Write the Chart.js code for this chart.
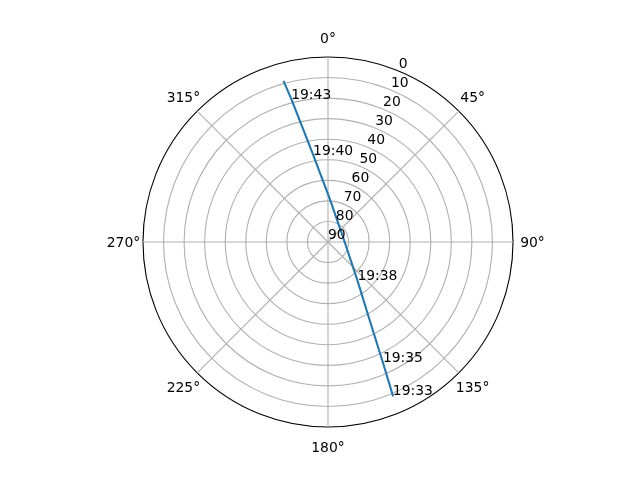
<!DOCTYPE html>
<html>
<head>
<meta charset="utf-8">
<script src="https://cdn.jsdelivr.net/npm/chart.js@4"></script>
<style>
  html, body { margin: 0; padding: 0; background: #fff; }
  #wrap { width: 640px; height: 480px; }
</style>
</head>
<body>
<div id="wrap"><canvas id="sky" width="640" height="480"></canvas></div>
<script>
// compass directions around the rim, elevation rings (0 = horizon at rim, 90 = zenith)
const directionLabels = ['0°', '45°', '90°', '135°', '180°', '225°', '270°', '315°'];
const elevationTicks = [0, 10, 20, 30, 40, 50, 60, 70, 80, 90];

// satellite pass (azimuth deg, elevation deg)
const trackAzimuth = [157.1, 155.5, 151.9, 142.5, 90.0, 2.8, 350.3, 345.6, 344.6];
const trackElevation = [9.0, 25.6, 47.1, 66.5, 81.9, 69.4, 46.9, 18.0, 9.2];
const trackTimes = ['19:33', '19:35', '', '19:38', '', '', '19:40', '19:43', ''];

const FONT = '13.9px "DejaVu Sans"';

function polarPos(scale, az, el) {
    const d = scale.getDistanceFromCenterForValue(el);
    const a = az * Math.PI / 180 - Math.PI / 2;
    return { x: scale.xCenter + Math.cos(a) * d, y: scale.yCenter + Math.sin(a) * d };
}

const skyPlot = {
    id: 'skyPlot',
    afterDraw(chart) {
        const r = chart.scales.r;
        const ctx = chart.ctx;
        ctx.save();

        // pass track
        ctx.beginPath();
        trackAzimuth.forEach((az, i) => {
            const p = polarPos(r, az, trackElevation[i]);
            if (i === 0) ctx.moveTo(p.x, p.y);
            else ctx.lineTo(p.x, p.y);
        });
        ctx.strokeStyle = '#1f77b4';
        ctx.lineWidth = 2.08;
        ctx.lineJoin = 'round';
        ctx.lineCap = 'square';
        ctx.stroke();

        ctx.font = FONT;
        ctx.fillStyle = '#000';

        // time stamps at their points
        ctx.textAlign = 'left';
        ctx.textBaseline = 'alphabetic';
        trackTimes.forEach((t, i) => {
            if (!t) return;
            const p = polarPos(r, trackAzimuth[i], trackElevation[i]);
            ctx.fillText(t, p.x, p.y);
        });

        // elevation tick labels along 22.5°
        elevationTicks.forEach(v => {
            const p = polarPos(r, 22.5, v);
            ctx.fillText(String(v), p.x, p.y - 3);
        });

        // compass labels outside the rim
        ctx.textAlign = 'center';
        directionLabels.forEach((lab, i) => {
            const a = i * Math.PI / 4 - Math.PI / 2;
            const d = r.drawingArea + 19.5;
            ctx.fillText(lab, r.xCenter + Math.cos(a) * d, r.yCenter + Math.sin(a) * d + 5);
        });

        ctx.restore();
    }
};

new Chart(document.getElementById('sky'), {
    type: 'radar',
    data: { labels: directionLabels, datasets: [] },
    options: {
        responsive: false,
        animation: false,
        devicePixelRatio: 1,
        layout: { padding: { top: 57, bottom: 53, left: 80, right: 64 } },
        plugins: {
            legend: { display: false },
            tooltip: { enabled: false }
        },
        scales: {
            r: {
                min: 0,
                max: 90,
                reverse: true,
                ticks: { display: false, stepSize: 10 },
                pointLabels: { display: false },
                grid: {
                    circular: true,
                    color: c => (c.tick && c.tick.value === 0) ? '#000000' : '#b0b0b0',
                    lineWidth: 1.1
                },
                angleLines: { color: '#b0b0b0', lineWidth: 1.1 }
            }
        }
    },
    plugins: [skyPlot]
});
</script>
</body>
</html>
